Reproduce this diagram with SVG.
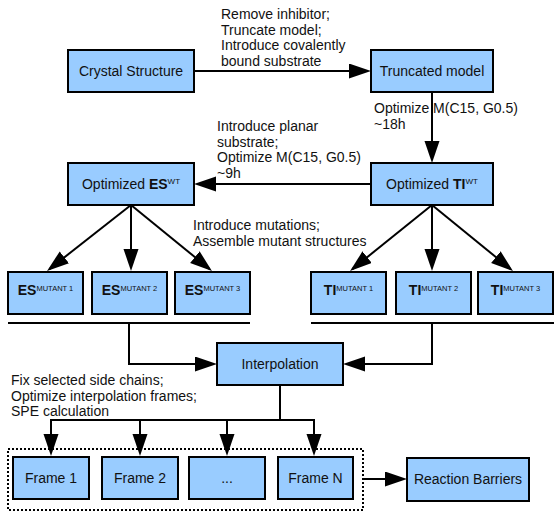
<svg xmlns="http://www.w3.org/2000/svg" width="554" height="511" viewBox="0 0 554 511">
<style>
.box{fill:#99CCFF;stroke:#000;stroke-width:2}
.t{font-family:"Liberation Sans",Arial,sans-serif;font-size:14px;fill:#111}
.c{text-anchor:middle}
.b{font-weight:bold}
.ln{fill:none;stroke:#000;stroke-width:2}
.ar{fill:none;stroke:#000;stroke-width:2;marker-end:url(#ah)}
.dot{fill:none;stroke:#000;stroke-width:2;stroke-dasharray:2 2}
</style>
<defs>
<marker id="ah" markerUnits="userSpaceOnUse" markerWidth="23" markerHeight="16" refX="19" refY="7.5" orient="auto" viewBox="0 0 23 16">
<path d="M0,0 L22,7.5 L0,15 Z" fill="#000"/>
</marker>
</defs>

<g id="connectors">
<line class="ar" x1="194" y1="71" x2="368" y2="71"/>
<line class="ar" x1="432" y1="92" x2="432" y2="160"/>
<line class="ar" x1="371" y1="184" x2="197" y2="184"/>
<line class="ar" x1="131" y1="205" x2="49.4" y2="269.1"/>
<line class="ar" x1="131" y1="205" x2="131" y2="268"/>
<line class="ar" x1="131" y1="205" x2="209.6" y2="269.1"/>
<line class="ar" x1="432" y1="205" x2="352.4" y2="269.1"/>
<line class="ar" x1="432" y1="205" x2="432" y2="268"/>
<line class="ar" x1="432" y1="205" x2="510.6" y2="269.1"/>
<line class="ln" x1="8" y1="323" x2="250" y2="323"/>
<line class="ln" x1="311" y1="323" x2="554" y2="323"/>
<polyline class="ar" points="129,323 129,364 214,364"/>
<polyline class="ar" points="432,323 432,364 346,364"/>
<line class="ln" x1="280" y1="385" x2="280" y2="420"/>
<line class="ln" x1="50" y1="420" x2="315" y2="420"/>
<line class="ar" x1="51" y1="420" x2="51" y2="453"/>
<line class="ar" x1="140" y1="420" x2="140" y2="453"/>
<line class="ar" x1="227" y1="420" x2="227" y2="453"/>
<line class="ar" x1="314" y1="420" x2="314" y2="453"/>
<line class="ar" x1="363" y1="479" x2="404" y2="479"/>
<rect class="dot" x="8" y="449" width="355" height="61"/>
</g>

<g id="labels">
<text class="t" x="221" y="19">Remove inhibitor;</text>
<text class="t" x="221" y="34.5">Truncate model;</text>
<text class="t" x="221" y="50">Introduce covalently</text>
<text class="t" x="221" y="65.5">bound substrate</text>
<text class="t" x="374" y="113">Optimize M(C15, G0.5)</text>
<text class="t" x="374" y="128.5">~18h</text>
<text class="t" x="217" y="131">Introduce planar</text>
<text class="t" x="217" y="146.5">substrate;</text>
<text class="t" x="217" y="162">Optimize M(C15, G0.5)</text>
<text class="t" x="217" y="177.5">~9h</text>
<text class="t" x="193" y="230">Introduce mutations;</text>
<text class="t" x="193" y="245.5">Assemble mutant structures</text>
<text class="t" x="11" y="385">Fix selected side chains;</text>
<text class="t" x="11" y="400.5">Optimize interpolation frames;</text>
<text class="t" x="11" y="416">SPE calculation</text>
</g>

<g id="crystal"><rect class="box" x="68" y="50" width="126" height="42"/><text class="t c" x="131" y="76">Crystal Structure</text></g>
<g id="truncated"><rect class="box" x="371" y="50" width="122" height="42"/><text class="t c" x="432" y="76">Truncated model</text></g>
<g id="es-wt"><rect class="box" x="68" y="163" width="126" height="42"/><text class="t c" x="131" y="189">Optimized <tspan class="b">ES</tspan><tspan font-size="8" dy="-5">WT</tspan></text></g>
<g id="ti-wt"><rect class="box" x="371" y="163" width="122" height="42"/><text class="t c" x="432" y="189">Optimized <tspan class="b">TI</tspan><tspan font-size="8" dy="-5">WT</tspan></text></g>

<g id="es-m1"><rect class="box" x="8" y="272" width="75" height="42"/><text class="t c" x="45.5" y="295"><tspan class="b">ES</tspan><tspan font-size="7.5" dy="-4">MUTANT 1</tspan></text></g>
<g id="es-m2"><rect class="box" x="92" y="272" width="75" height="42"/><text class="t c" x="129.5" y="295"><tspan class="b">ES</tspan><tspan font-size="7.5" dy="-4">MUTANT 2</tspan></text></g>
<g id="es-m3"><rect class="box" x="175" y="272" width="75" height="42"/><text class="t c" x="212.5" y="295"><tspan class="b">ES</tspan><tspan font-size="7.5" dy="-4">MUTANT 3</tspan></text></g>
<g id="ti-m1"><rect class="box" x="311" y="272" width="75" height="42"/><text class="t c" x="348.5" y="295"><tspan class="b">TI</tspan><tspan font-size="7.5" dy="-4">MUTANT 1</tspan></text></g>
<g id="ti-m2"><rect class="box" x="396" y="272" width="75" height="42"/><text class="t c" x="433.5" y="295"><tspan class="b">TI</tspan><tspan font-size="7.5" dy="-4">MUTANT 2</tspan></text></g>
<g id="ti-m3"><rect class="box" x="478" y="272" width="75" height="42"/><text class="t c" x="515.5" y="295"><tspan class="b">TI</tspan><tspan font-size="7.5" dy="-4">MUTANT 3</tspan></text></g>

<g id="interpolation"><rect class="box" x="217" y="343" width="126" height="42"/><text class="t c" x="280" y="369">Interpolation</text></g>

<g id="frame1"><rect class="box" x="13" y="457" width="76" height="42"/><text class="t c" x="51" y="483">Frame 1</text></g>
<g id="frame2"><rect class="box" x="102" y="457" width="76" height="42"/><text class="t c" x="140" y="483">Frame 2</text></g>
<g id="frame-dots"><rect class="box" x="189" y="457" width="76" height="42"/><text class="t c" x="227" y="483">...</text></g>
<g id="frameN"><rect class="box" x="278" y="457" width="75" height="42"/><text class="t c" x="315.5" y="483">Frame N</text></g>
<g id="barriers"><rect class="box" x="407" y="458" width="122" height="43"/><text class="t c" x="468" y="484">Reaction Barriers</text></g>
</svg>
